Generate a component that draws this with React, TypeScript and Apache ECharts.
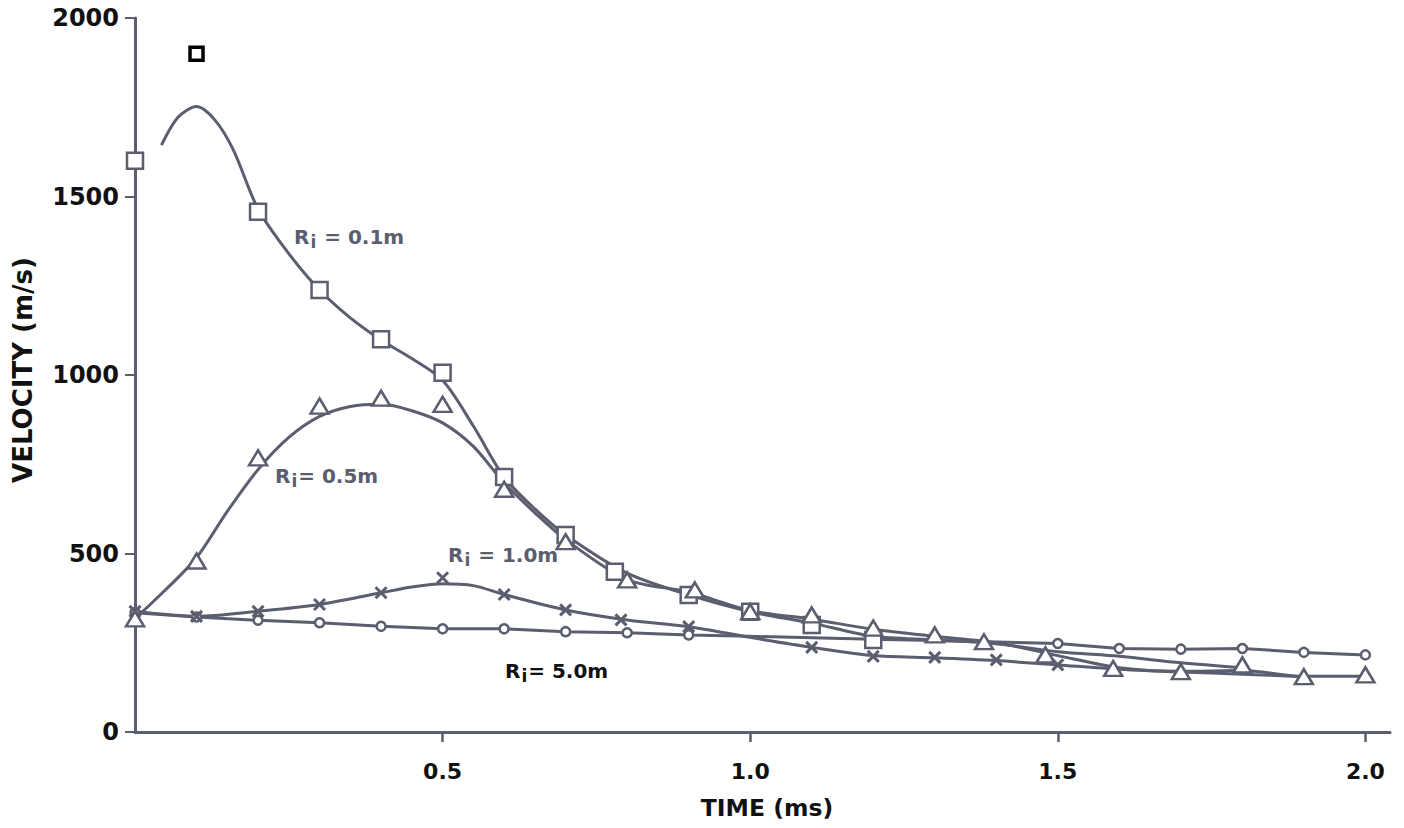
import React, { useEffect, useRef } from "react";
import * as echarts from "echarts";

// ---- data (time in ms, velocity in m/s) ----
const xTickValues = [0.5, 1.0, 1.5, 2.0];

// R_i = 0.1 m : square markers and fitted curve
const squares01 = [
  [0, 1600], [0.1, 1900], [0.2, 1457], [0.3, 1238], [0.4, 1100], [0.5, 1006],
  [0.6, 714], [0.7, 552], [0.78, 449], [0.9, 384], [1.0, 337], [1.1, 300], [1.2, 258],
];
const curve01 = [
  [0.043, 1644], [0.07, 1722], [0.1, 1752], [0.13, 1714], [0.16, 1630], [0.2, 1465],
  [0.25, 1340], [0.3, 1238], [0.35, 1160], [0.4, 1098], [0.45, 1046], [0.5, 985],
  [0.55, 857], [0.6, 714], [0.65, 625], [0.7, 552], [0.8, 445], [0.9, 384], [1.0, 337],
  [1.1, 305], [1.2, 268], [1.3, 258], [1.4, 247], [1.5, 225], [1.6, 212], [1.7, 194], [1.8, 180],
];

// R_i = 0.5 m : triangle markers and fitted curve
const triangles05 = [
  [0, 317], [0.1, 479], [0.2, 768], [0.3, 913], [0.4, 935], [0.5, 918], [0.6, 680],
  [0.7, 533], [0.8, 426], [0.91, 398], [1.0, 337], [1.1, 328], [1.2, 291], [1.3, 272],
  [1.38, 253], [1.48, 216], [1.59, 178], [1.7, 169], [1.8, 188], [1.9, 155], [2.0, 160],
];
const curve05 = [
  [0, 317], [0.05, 399], [0.1, 488], [0.15, 618], [0.2, 735], [0.25, 825], [0.3, 884],
  [0.35, 912], [0.4, 918], [0.45, 900], [0.5, 866], [0.55, 800], [0.6, 698], [0.65, 614],
  [0.7, 539], [0.8, 427], [0.9, 392], [1.0, 340], [1.1, 316], [1.2, 288], [1.3, 268],
  [1.4, 250], [1.5, 214], [1.6, 180], [1.7, 170], [1.8, 172], [1.9, 156], [2.0, 156],
];

// R_i = 1.0 m : cross markers and curve
const crosses10 = [
  [0, 338], [0.1, 324], [0.2, 338], [0.3, 357], [0.4, 390], [0.5, 432], [0.6, 385],
  [0.7, 342], [0.79, 314], [0.9, 295], [1.1, 237], [1.2, 212], [1.3, 209], [1.4, 202], [1.5, 188],
];
const curve10 = [
  [0, 338], [0.1, 324], [0.2, 338], [0.3, 357], [0.4, 390], [0.45, 406], [0.5, 415],
  [0.55, 410], [0.6, 385], [0.7, 342], [0.8, 314], [0.9, 295], [1.0, 265], [1.1, 237],
  [1.2, 214], [1.3, 208], [1.4, 200], [1.5, 188], [1.6, 176], [1.7, 168], [1.8, 162], [1.9, 155],
];

// R_i = 5.0 m : circle markers joined by straight segments
const circles50 = [
  [0, 334], [0.1, 322], [0.2, 313], [0.3, 306], [0.4, 296], [0.5, 289], [0.6, 289],
  [0.7, 281], [0.8, 278], [0.9, 272], [1.0, 268], [1.1, 264], [1.2, 260], [1.3, 256],
  [1.4, 252], [1.5, 248], [1.6, 234], [1.7, 232], [1.8, 234], [1.9, 223], [2.0, 216],
];
const hiddenCircleTimes = [1.0, 1.1, 1.2, 1.3, 1.4];

const curveLabels = [
  { text: "{a|R}{b|i}{a| = 0.1m}", x: 294, y: 237, color: "#5a5e6e" },
  { text: "{a|R}{b|i}{a|= 0.5m}", x: 275, y: 476, color: "#5a5e6e" },
  { text: "{a|R}{b|i}{a| = 1.0m}", x: 448, y: 555, color: "#5a5e6e" },
  { text: "{a|R}{b|i}{a|= 5.0m}", x: 505, y: 671, color: "#111111" },
];

const GRAY = "#5a5e6e";
const FONT = "'DejaVu Sans', sans-serif";

export default function App() {
  const ref = useRef<HTMLDivElement>(null);

  useEffect(() => {
    if (!ref.current) return;
    const chart = echarts.init(ref.current, null, { renderer: "svg" });

    const labelGraphics = curveLabels.map((l) => ({
      type: "text",
      x: l.x,
      y: l.y,
      z: 10,
      style: {
        text: l.text,
        align: "left",
        verticalAlign: "middle",
        rich: {
          a: {
            fontSize: 20,
            fontWeight: "bold",
            fontFamily: FONT,
            fill: l.color,
            lineHeight: 26,
            verticalAlign: "middle",
          },
          b: {
            fontSize: 17,
            fontWeight: "bold",
            fontFamily: FONT,
            fill: l.color,
            lineHeight: 6,
            verticalAlign: "bottom",
            padding: [0, 1, 0, 1],
          },
        },
      },
    }));

    const option: any = {
      animation: false,
      backgroundColor: "#ffffff",
      grid: { left: 135, right: 14, top: 18, bottom: 96, containLabel: false },
      xAxis: {
        type: "value",
        min: 0,
        max: 2.04,
        interval: 0.5,
        splitLine: { show: false },
        axisLine: { show: true, onZero: false, lineStyle: { color: GRAY, width: 3 } },
        axisTick: {
          show: true,
          length: 10,
          customValues: xTickValues,
          lineStyle: { color: GRAY, width: 2.5 },
        },
        axisLabel: {
          customValues: xTickValues,
          formatter: (v: number) => v.toFixed(1),
          color: "#111",
          fontSize: 22,
          fontWeight: "bold",
          fontFamily: FONT,
          margin: 28,
        },
      },
      yAxis: {
        type: "value",
        min: 0,
        max: 2000,
        interval: 500,
        splitLine: { show: false },
        axisLine: { show: true, lineStyle: { color: GRAY, width: 3 } },
        axisTick: { show: true, length: 10, lineStyle: { color: GRAY, width: 2 } },
        axisLabel: {
          formatter: (v: number) => String(v),
          color: "#111",
          fontSize: 24,
          fontWeight: "bold",
          fontFamily: FONT,
          margin: 16,
        },
      },
      graphic: [
        {
          type: "text",
          x: 23,
          y: 370,
          rotation: Math.PI / 2,
          style: {
            text: "VELOCITY (m/s)",
            align: "center",
            verticalAlign: "middle",
            fontSize: 26,
            fontWeight: "bold",
            fontFamily: FONT,
            fill: "#111",
          },
        },
        {
          type: "text",
          x: 767,
          y: 808,
          style: {
            text: "TIME (ms)",
            align: "center",
            verticalAlign: "middle",
            fontSize: 23.5,
            fontWeight: "bold",
            fontFamily: FONT,
            fill: "#111",
          },
        },
        ...labelGraphics,
      ],
      series: [
        {
          name: "curve 0.1",
          type: "line",
          data: curve01,
          smooth: 0.3,
          symbol: "none",
          lineStyle: { color: GRAY, width: 3 },
          z: 2,
        },
        {
          name: "Ri=0.1m",
          type: "scatter",
          data: squares01.map((p, i) =>
            i === 1
              ? { value: p, symbolSize: 13, itemStyle: { borderColor: "#000", borderWidth: 3.5 } }
              : p
          ),
          symbol: "rect",
          symbolSize: 16,
          itemStyle: { color: "#fff", borderColor: GRAY, borderWidth: 2.5, opacity: 1 },
          z: 4,
        },
        {
          name: "curve 0.5",
          type: "line",
          data: curve05,
          smooth: 0.3,
          symbol: "none",
          lineStyle: { color: GRAY, width: 3 },
          z: 2,
        },
        {
          name: "Ri=0.5m",
          type: "scatter",
          data: triangles05,
          symbol: "triangle",
          symbolSize: [18, 15],
          itemStyle: { color: "#fff", borderColor: GRAY, borderWidth: 2.5, opacity: 1 },
          z: 4,
        },
        {
          name: "curve 1.0",
          type: "line",
          data: curve10,
          smooth: 0.3,
          symbol: "none",
          lineStyle: { color: GRAY, width: 3 },
          z: 2,
        },
        {
          name: "Ri=1.0m",
          type: "scatter",
          data: crosses10,
          symbol: "path://M0,0L10,10M10,0L0,10",
          symbolSize: 11,
          itemStyle: { color: "rgba(0,0,0,0)", borderColor: GRAY, borderWidth: 3, opacity: 1 },
          z: 4,
        },
        {
          name: "Ri=5.0m",
          type: "line",
          data: circles50.map((p) =>
            hiddenCircleTimes.includes(p[0]) ? { value: p, symbol: "none" } : p
          ),
          smooth: false,
          symbol: "circle",
          symbolSize: 9,
          showAllSymbol: true,
          lineStyle: { color: GRAY, width: 3 },
          itemStyle: { color: "#fff", borderColor: GRAY, borderWidth: 2.5 },
          z: 3,
        },
      ],
    };

    chart.setOption(option);
    return () => chart.dispose();
  }, []);

  return (
    <div
      ref={ref}
      style={{ position: "absolute", left: 0, top: 0, width: 1404, height: 828, background: "#fff" }}
    />
  );
}
